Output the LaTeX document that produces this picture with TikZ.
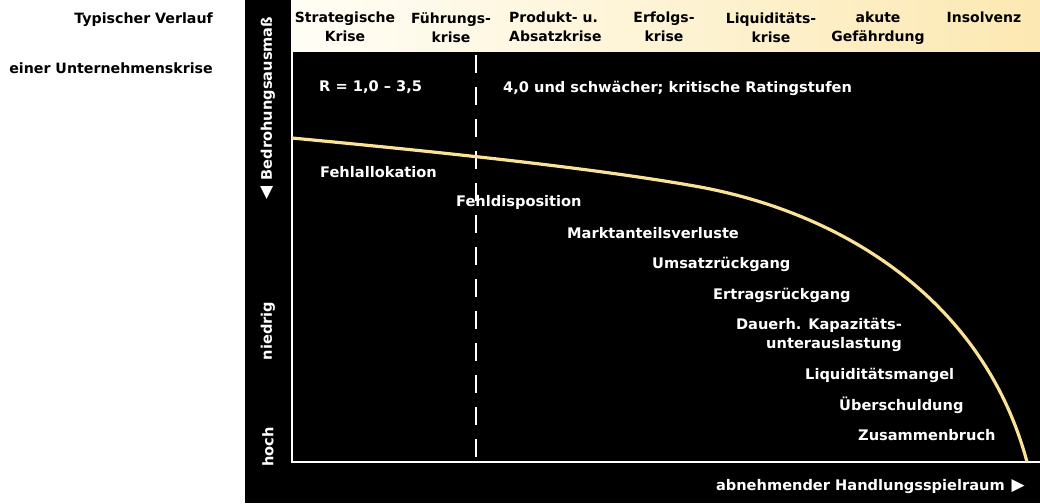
\documentclass[tikz,border=0pt]{standalone}
\usepackage{fontspec}
\setmainfont{DejaVu Sans}
\definecolor{curvec}{RGB}{250,226,150}
\definecolor{hdrL}{RGB}{255,254,246}
\definecolor{hdrR}{RGB}{252,232,178}
\begin{document}
\begin{tikzpicture}[x=1pt,y=-1pt,
  txt/.style={font=\fontsize{14}{19}\selectfont\bfseries, inner sep=0pt},
  lbl/.style={font=\fontsize{14.6}{18.5}\selectfont\bfseries, inner sep=0pt, text=white},
  hdr/.style={txt, text=black, align=center, anchor=north},
  ttl/.style={font=\fontsize{14.2}{18}\selectfont\bfseries, inner sep=0pt, text=black, anchor=east},
  vlbl/.style={lbl, rotate=90},
  axis/.style={draw=white, line width=1.6pt},
  divider/.style={draw=white, line width=2pt, dash pattern=on 18pt off 14pt},
  crv/.style={draw=curvec, line width=3.2pt}]
\useasboundingbox (0,0) rectangle (1040,503);
\fill[black] (245,0) rectangle (1040,503);
\shade[left color=hdrL, right color=hdrR] (291,0) rectangle (1040,52);
% title
\node[ttl] (t1) at (213,20) {Typischer Verlauf};
\node[ttl] (t2) at (213,68) {einer Unternehmenskrise};
% header
\node[hdr] (h1) at (345,12) {Strategische\\Krise};
\node[hdr] (h2) at (451,12) {Führungs-\\krise};
\node[hdr, align=left, anchor=north west] (h3) at (509,12) {Produkt- u.\\Absatzkrise};
\node[hdr] (h4) at (664,12) {Erfolgs-\\krise};
\node[hdr] (h5) at (771,12) {Liquiditäts-\\krise};
\node[hdr] (h6) at (878,12) {akute\\Gefährdung};
\node[hdr] (h7) at (984,12) {Insolvenz};
% axes
\coordinate (o) at (292,462);
\coordinate (ytop) at (292,52);
\coordinate (xend) at (1040,462);
\draw[axis] (ytop) -- (o) -- (xend);
% divider
\coordinate (d0) at (476,55);
\coordinate (d1) at (476,457);
\draw[divider] (d0) -- (d1);
% curve
\coordinate (c0) at (292,138);
\coordinate (c1) at (700,187);
\coordinate (c2) at (1027,462);
\draw[crv] (c0) .. controls (450,153) and (600,169) .. (c1) .. controls (850,215) and (985,305) .. (c2);
% vertical labels
\node[vlbl] (v1) at (268,447) {hoch};
\node[vlbl] (v2) at (268,331) {niedrig};
\node[vlbl] (v3) at (268,108) {{\fontsize{17}{17}\selectfont ◀}\hspace{6pt}Bedrohungsausmaß};
% rating labels
\node[lbl, anchor=west] (r1) at (319,87) {R = 1,0 – 3,5};
\node[lbl, anchor=west] (r2) at (503,88) {4,0 und schwächer; kritische Ratingstufen};
% stages
\node[lbl, anchor=west] (s1) at (320,172) {Fehlallokation};
\node[lbl, anchor=west] (s2) at (456,202) {Fehldisposition};
\node[lbl, anchor=west] (s3) at (567,233) {Marktanteilsverluste};
\node[lbl, anchor=west] (s4) at (652,264) {Umsatzrückgang};
\node[lbl, anchor=west] (s5) at (713,295) {Ertragsrückgang};
\node[lbl, align=right, anchor=north east] (s6) at (902,318) {Dauerh. Kapazitäts-\\unterauslastung};
\node[lbl, anchor=west] (s7) at (805,375) {Liquiditätsmangel};
\node[lbl, anchor=west] (s8) at (839,405) {Überschuldung};
\node[lbl, anchor=west] (s9) at (858,435) {Zusammenbruch};
\node[lbl, anchor=east] (xl) at (1025,487) {abnehmender Handlungsspielraum\hspace{7pt}{\fontsize{17}{17}\selectfont ▶}};
\end{tikzpicture}
\end{document}
